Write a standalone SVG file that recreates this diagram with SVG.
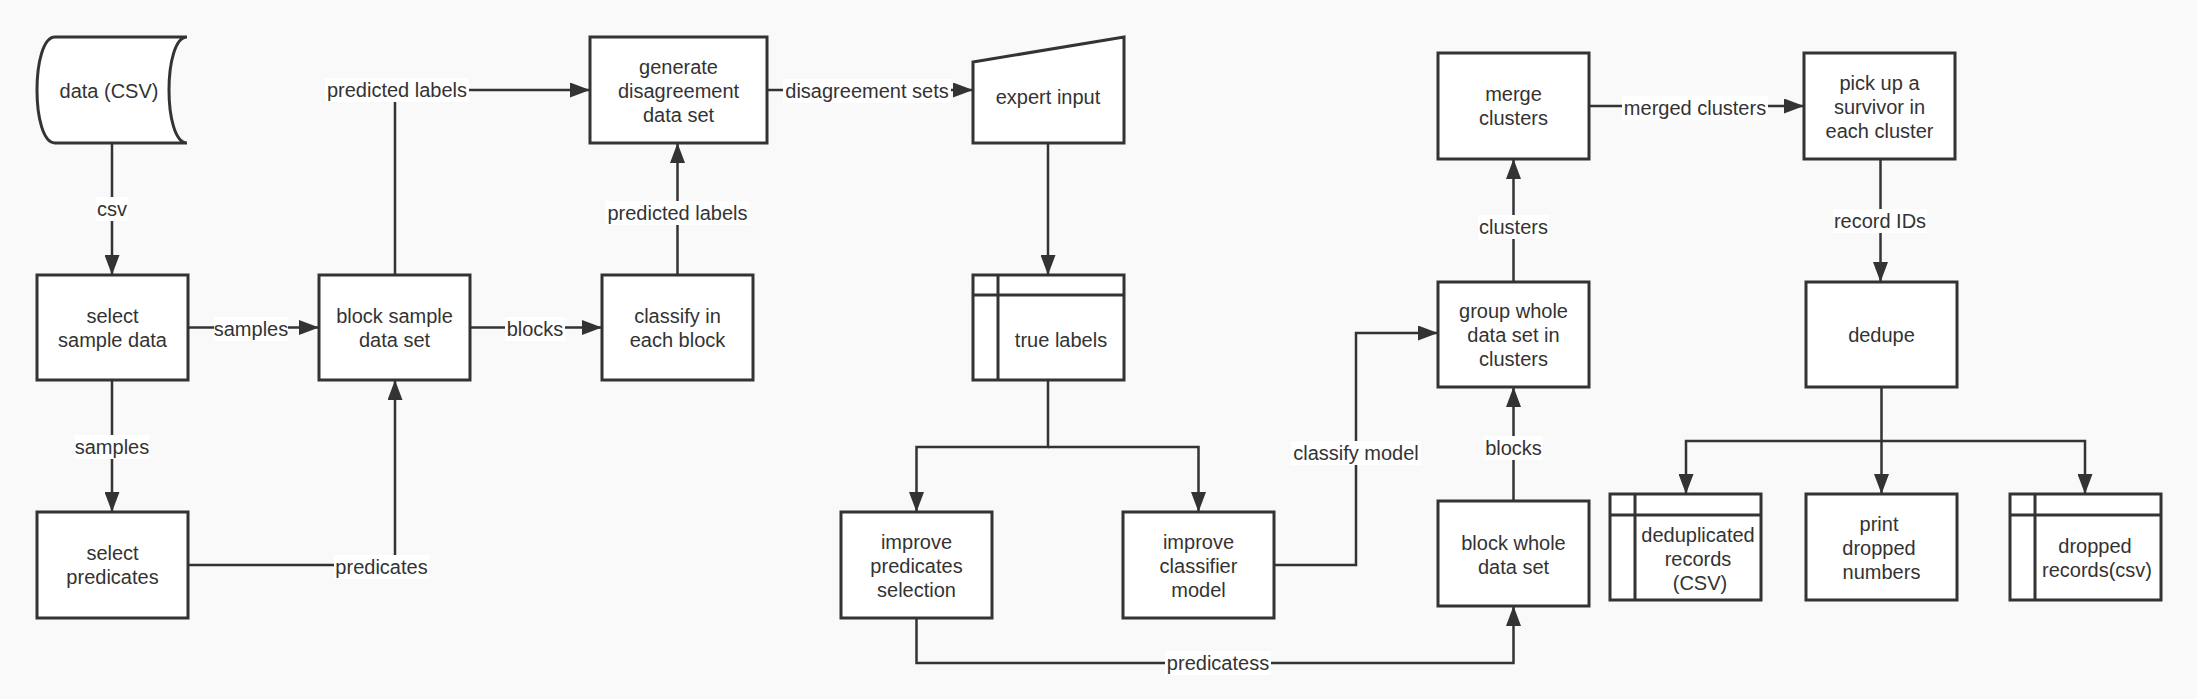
<svg xmlns="http://www.w3.org/2000/svg" width="2197" height="699" viewBox="0 0 2197 699">
<style>
.bg{fill:#f9f9f9}
.n{fill:#ffffff;stroke:#333333;stroke-width:3}
.in{fill:none;stroke:#333333;stroke-width:3}
.t{font-family:"Liberation Sans",Arial,sans-serif;font-size:20px;fill:#333333;text-anchor:middle}
.c{fill:none;stroke:#333333;stroke-width:2.5;marker-end:url(#ah)}
.cn{fill:none;stroke:#333333;stroke-width:2.5}
.lb{fill:#ffffff}
</style>
<defs>
<marker id="ah" markerUnits="userSpaceOnUse" markerWidth="20" markerHeight="15" refX="20" refY="7.5" orient="auto">
<path d="M0,0 L20,7.5 L0,15 Z" fill="#333333"/>
</marker>
</defs>
<rect class="bg" x="0" y="0" width="2197" height="699"/>

<g id="connectors">
<path class="c" d="M112,143 V275"/>
<path class="c" d="M188,327.5 H319"/>
<path class="c" d="M112,380 V512"/>
<path class="c" d="M188,565 H395 V380"/>
<path class="c" d="M395,275 V90 H590"/>
<path class="c" d="M470,327.5 H602"/>
<path class="c" d="M677.5,275 V143"/>
<path class="c" d="M767,90 H973"/>
<path class="c" d="M1048,143 V275"/>
<path class="c" d="M1048,380 V447 H916.5 V512"/>
<path class="c" d="M1048,447 H1198.5 V512"/>
<path class="c" d="M1274,565 H1356 V333 H1438"/>
<path class="c" d="M916.5,618 V663 H1513.5 V606"/>
<path class="c" d="M1513.5,501 V387"/>
<path class="c" d="M1513.5,282 V159"/>
<path class="c" d="M1589,106 H1804"/>
<path class="c" d="M1880.5,159 V282"/>
<path class="c" d="M1881.5,387 V441 H1686 V494"/>
<path class="c" d="M1881.5,441 V494"/>
<path class="c" d="M1881.5,441 H2085 V494"/>

<rect class="lb" x="96" y="197" width="32" height="24"/>
<text class="t" x="112" y="216">csv</text>
<rect class="lb" x="214" y="317" width="74" height="24"/>
<text class="t" x="251" y="336">samples</text>
<rect class="lb" x="75" y="435" width="74" height="24"/>
<text class="t" x="112" y="454">samples</text>
<rect class="lb" x="334" y="555" width="95" height="24"/>
<text class="t" x="381.5" y="574">predicates</text>
<rect class="lb" x="325" y="78" width="144" height="24"/>
<text class="t" x="397" y="97">predicted labels</text>
<rect class="lb" x="505" y="317" width="60" height="24"/>
<text class="t" x="535" y="336">blocks</text>
<rect class="lb" x="605.5" y="201" width="144" height="24"/>
<text class="t" x="677.5" y="220">predicted labels</text>
<rect class="lb" x="783" y="79" width="168" height="24"/>
<text class="t" x="867" y="98">disagreement sets</text>
<rect class="lb" x="1291" y="441" width="130" height="24"/>
<text class="t" x="1356" y="460">classify model</text>
<rect class="lb" x="1165" y="651" width="106" height="24"/>
<text class="t" x="1218" y="670">predicatess</text>
<rect class="lb" x="1484" y="436" width="59" height="24"/>
<text class="t" x="1513.5" y="455">blocks</text>
<rect class="lb" x="1478" y="215" width="71" height="24"/>
<text class="t" x="1513.5" y="234">clusters</text>
<rect class="lb" x="1622" y="96" width="146" height="24"/>
<text class="t" x="1695" y="115">merged clusters</text>
<rect class="lb" x="1833" y="209" width="94" height="24"/>
<text class="t" x="1880" y="228">record IDs</text>
</g>

<g id="data-csv">
<path class="n" d="M55,37 H187 C163,37 163,143 187,143 H55 C31,143 31,37 55,37 Z"/>
<text class="t" x="109" y="98">data (CSV)</text>
</g>
<g id="select-sample-data">
<rect class="n" x="37" y="275" width="151" height="105"/>
<text class="t" x="112.5" y="323">select</text>
<text class="t" x="112.5" y="347">sample data</text>
</g>
<g id="select-predicates">
<rect class="n" x="37" y="512" width="151" height="106"/>
<text class="t" x="112.5" y="560">select</text>
<text class="t" x="112.5" y="584">predicates</text>
</g>
<g id="block-sample-data-set">
<rect class="n" x="319" y="275" width="151" height="105"/>
<text class="t" x="394.5" y="323">block sample</text>
<text class="t" x="394.5" y="347">data set</text>
</g>
<g id="classify-in-each-block">
<rect class="n" x="602" y="275" width="151" height="105"/>
<text class="t" x="677.5" y="323">classify in</text>
<text class="t" x="677.5" y="347">each block</text>
</g>
<g id="generate-disagreement">
<rect class="n" x="590" y="37" width="177" height="106"/>
<text class="t" x="678.5" y="74">generate</text>
<text class="t" x="678.5" y="98">disagreement</text>
<text class="t" x="678.5" y="122">data set</text>
</g>
<g id="expert-input">
<path class="n" d="M973,62 L1124,37 V143 H973 Z"/>
<text class="t" x="1048" y="104">expert input</text>
</g>
<g id="true-labels">
<rect class="n" x="973" y="275" width="151" height="105"/>
<path class="in" d="M973,295 H1124 M998,275 V380"/>
<text class="t" x="1061" y="347">true labels</text>
</g>
<g id="improve-predicates-selection">
<rect class="n" x="841" y="512" width="151" height="106"/>
<text class="t" x="916.5" y="549">improve</text>
<text class="t" x="916.5" y="573">predicates</text>
<text class="t" x="916.5" y="597">selection</text>
</g>
<g id="improve-classifier-model">
<rect class="n" x="1123" y="512" width="151" height="106"/>
<text class="t" x="1198.5" y="549">improve</text>
<text class="t" x="1198.5" y="573">classifier</text>
<text class="t" x="1198.5" y="597">model</text>
</g>
<g id="block-whole-data-set">
<rect class="n" x="1438" y="501" width="151" height="105"/>
<text class="t" x="1513.5" y="550">block whole</text>
<text class="t" x="1513.5" y="574">data set</text>
</g>
<g id="group-whole-data-set">
<rect class="n" x="1438" y="282" width="151" height="105"/>
<text class="t" x="1513.5" y="318">group whole</text>
<text class="t" x="1513.5" y="342">data set in</text>
<text class="t" x="1513.5" y="366">clusters</text>
</g>
<g id="merge-clusters">
<rect class="n" x="1438" y="53" width="151" height="106"/>
<text class="t" x="1513.5" y="101">merge</text>
<text class="t" x="1513.5" y="125">clusters</text>
</g>
<g id="pick-up-survivor">
<rect class="n" x="1804" y="53" width="151" height="106"/>
<text class="t" x="1879.5" y="90">pick up a</text>
<text class="t" x="1879.5" y="114">survivor in</text>
<text class="t" x="1879.5" y="138">each cluster</text>
</g>
<g id="dedupe">
<rect class="n" x="1806" y="282" width="151" height="105"/>
<text class="t" x="1881.5" y="342">dedupe</text>
</g>
<g id="deduplicated-records">
<rect class="n" x="1610" y="494" width="151" height="106"/>
<path class="in" d="M1610,515 H1761 M1635,494 V600"/>
<text class="t" x="1698" y="542">deduplicated</text>
<text class="t" x="1698" y="566">records</text>
<text class="t" x="1700" y="590">(CSV)</text>
</g>
<g id="print-dropped-numbers">
<rect class="n" x="1806" y="494" width="151" height="106"/>
<text class="t" x="1879" y="531">print</text>
<text class="t" x="1879" y="555">dropped</text>
<text class="t" x="1881.5" y="579">numbers</text>
</g>
<g id="dropped-records">
<rect class="n" x="2010" y="494" width="151" height="106"/>
<path class="in" d="M2010,515 H2161 M2035,494 V600"/>
<text class="t" x="2095" y="553">dropped</text>
<text class="t" x="2097" y="577">records(csv)</text>
</g>
</svg>
